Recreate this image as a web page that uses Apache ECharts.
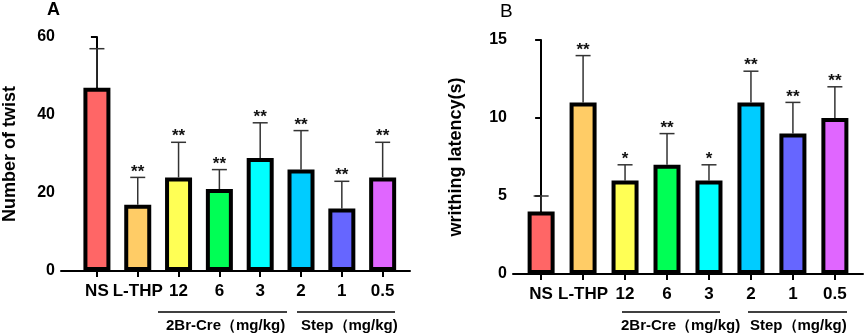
<!DOCTYPE html>
<html>
<head>
<meta charset="utf-8">
<script src="https://cdn.jsdelivr.net/npm/echarts@6/dist/echarts.min.js"></script>
<style>
  html, body { margin: 0; padding: 0; background: #fff; }
  #chart { width: 865px; height: 336px; }
</style>
</head>
<body>
<div id="chart"></div>
<script>
// groups on the x axis
const categories = ['NS', 'L-THP', '12', '6', '3', '2', '1', '0.5']
const barColors = ['#FF6666', '#FFCC66', '#FFFF55', '#00FF55', '#00FFFF', '#00CCFF', '#6666FF', '#E066FF']

// A: number of twist (mean, mean + SD)
const twistMean = [47, 17, 24, 21, 29, 26, 16, 24]
const twistUpper = [57, 24, 33, 26, 38, 36, 23, 33]
const twistStars = ['', '**', '**', '**', '**', '**', '**', '**']

// B: writhing latency (s)
const latencyMean = [4, 11, 6, 7, 6, 11, 9, 10]
const latencyUpper = [5, 14, 7, 9, 7, 13, 11, 12]
const latencyStars = ['', '**', '*', '**', '*', '**', '**', '**']

const catIdx = categories.map((c, i) => i)
const FONT = 'Arial, "Liberation Sans", sans-serif'

const chart = echarts.init(document.getElementById('chart'))

// bar data with per-bar colours
const barData = (vals) => vals.map((v, i) => ({
  value: [i, v],
  itemStyle: { color: barColors[i] }
}))

// error bar + significance stars
const errRender = (stars) => (params, api) => {
  const x = api.value(0)
  const top = api.coord([x, api.value(1)])
  const end = api.coord([x, api.value(2)])
  const st = { stroke: '#333', lineWidth: 1.5 }
  return {
    type: 'group',
    children: [
      { type: 'line', shape: { x1: top[0], y1: top[1], x2: end[0], y2: end[1] }, style: st },
      { type: 'line', shape: { x1: end[0] - 7.5, y1: end[1], x2: end[0] + 7.5, y2: end[1] }, style: st },
      {
        type: 'text',
        style: {
          text: stars[params.dataIndex], x: end[0], y: end[1] + 3,
          align: 'center', verticalAlign: 'bottom',
          font: 'bold 17px ' + FONT, fill: '#111'
        }
      }
    ]
  }
}

const xAxisBase = (min, max, gridIndex) => ({
  type: 'value',
  gridIndex,
  min, max,
  splitLine: { show: false },
  axisLine: { show: true, onZero: false, lineStyle: { color: '#000', width: 2 } },
  axisTick: { show: true, customValues: catIdx, length: 6, lineStyle: { color: '#000', width: 2 } },
  axisLabel: {
    customValues: catIdx,
    formatter: (v) => categories[v] ?? '',
    color: '#000', fontSize: 17, fontWeight: 'bold', fontFamily: FONT, margin: 12
  }
})

const yAxisBase = (max, interval, name, nameGap, gridIndex) => ({
  type: 'value',
  gridIndex,
  min: 0, max, interval,
  name,
  nameLocation: 'middle',
  nameGap,
  nameTextStyle: { color: '#000', fontSize: 18, fontWeight: 'bold', fontFamily: FONT },
  splitLine: { show: false },
  axisLine: { show: true, lineStyle: { color: '#000', width: 2 } },
  axisTick: { show: true, length: 6, lineStyle: { color: '#000', width: 2 } },
  axisLabel: { color: '#000', fontSize: 16, fontWeight: 'bold', fontFamily: FONT, margin: 6 }
})

const groupLabel = (left, top, name) => ({
  type: 'text', left, top,
  style: {
    text: name + '（mg/kg)',
    font: 'bold 15px ' + FONT, fill: '#000'
  }
})
const groupLine = (x1, x2) => ({
  type: 'line', shape: { x1, y1: 312, x2, y2: 312 },
  style: { stroke: '#000', lineWidth: 1.5 }
})

chart.setOption({
  animation: false,
  grid: [
    { left: 52, right: 455, top: 37, bottom: 65 },
    { left: 513, right: 2, top: 40, bottom: 62 }
  ],
  xAxis: [xAxisBase(-0.88, 7.67, 0), xAxisBase(-0.67, 7.67, 1)],
  yAxis: [
    yAxisBase(60, 20, 'Number of twist', 42, 0),
    yAxisBase(15, 5, 'writhing latency(s)', 48, 1)
  ],
  series: [
    {
      type: 'bar', xAxisIndex: 0, yAxisIndex: 0, barWidth: 27, z: 3,
      itemStyle: { borderColor: '#000', borderWidth: 4 },
      data: barData(twistMean)
    },
    {
      type: 'custom', xAxisIndex: 0, yAxisIndex: 0, z: 2,
      renderItem: errRender(twistStars),
      data: twistMean.map((v, i) => [i, v, twistUpper[i]])
    },
    {
      type: 'bar', xAxisIndex: 1, yAxisIndex: 1, barWidth: 27, z: 3,
      itemStyle: { borderColor: '#000', borderWidth: 4 },
      data: barData(latencyMean)
    },
    {
      type: 'custom', xAxisIndex: 1, yAxisIndex: 1, z: 2,
      renderItem: errRender(latencyStars),
      data: latencyMean.map((v, i) => [i, v, latencyUpper[i]])
    }
  ],
  graphic: [
    { type: 'text', left: 47, top: 1, style: { text: 'A', font: 'bold 18px ' + FONT, fill: '#000' } },
    { type: 'text', left: 500, top: 2, style: { text: 'B', font: '19px ' + FONT, fill: '#000' } },
    groupLine(158, 287), groupLine(297, 395),
    groupLine(622, 720), groupLine(748, 847),
    groupLabel(166, 318, '2Br-Cre'), groupLabel(301, 318, 'Step'),
    groupLabel(621, 318, '2Br-Cre'), groupLabel(750, 318, 'Step')
  ]
})
</script>
</body>
</html>
